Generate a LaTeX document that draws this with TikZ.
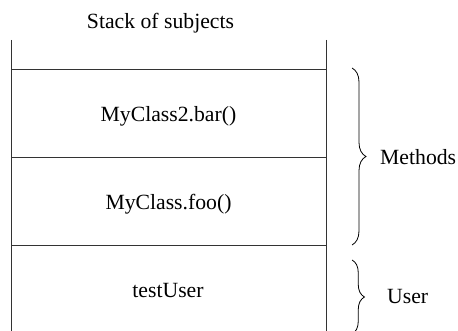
\documentclass[tikz,border=0pt]{standalone}
\usepackage{fontspec}
\setmainfont{Liberation Serif}
\usetikzlibrary{decorations.pathreplacing}
\begin{document}
\begin{tikzpicture}[x=1pt,y=-1pt,
  stackline/.style={line width=0.9pt, draw=black!80},
  lbl/.style={inner sep=0pt, font=\fontsize{21.7}{26}\selectfont},
  bracestyle/.style={line width=0.8pt, decorate, decoration={brace, amplitude=#1}}]
\useasboundingbox (0,0) rectangle (458,331);
% stack outline
\coordinate (tl) at (11,40);
\coordinate (tr) at (326,40);
\coordinate (bl) at (11,334);
\coordinate (br) at (326,334);
\coordinate (l1) at (11,69);  \coordinate (r1) at (326,69);
\coordinate (l2) at (11,157); \coordinate (r2) at (326,157);
\coordinate (l3) at (11,245); \coordinate (r3) at (326,245);
\draw[stackline] (tl) -- (bl);
\draw[stackline] (tr) -- (br);
\draw[stackline] (l1) -- (r1);
\draw[stackline] (l2) -- (r2);
\draw[stackline] (l3) -- (r3);
% texts
\node[lbl, anchor=base] (title) at (160.5,29) {Stack of subjects};
\node[lbl, anchor=base] (bar) at (168.5,122) {MyClass2.bar()};
\node[lbl, anchor=base] (foo) at (168.5,210) {MyClass.foo()};
\node[lbl, anchor=base] (tu) at (168,298) {testUser};
% braces
\coordinate (mb1) at (352,68);
\coordinate (mb2) at (352,245);
\coordinate (ub1) at (352,260);
\coordinate (ub2) at (352,334);
\draw[bracestyle=14pt] (mb1) -- (mb2);
\draw[bracestyle=12.5pt] (ub1) -- (ub2);
\node[lbl, anchor=base west] (methods) at (380,165) {Methods};
\node[lbl, anchor=base west] (user) at (387,303) {User};
\end{tikzpicture}
\end{document}
